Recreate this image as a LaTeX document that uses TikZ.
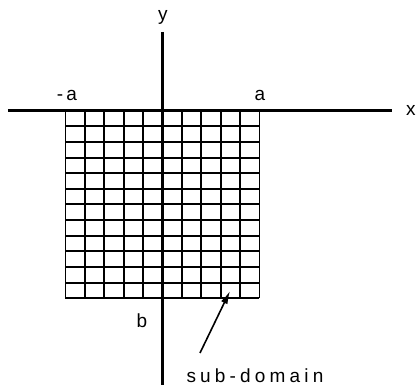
\documentclass[tikz,border=0pt]{standalone}
\usepackage{fontspec}
\setmainfont{Liberation Sans}[LetterSpace=22]
\usetikzlibrary{arrows.meta}

\begin{document}
\begin{tikzpicture}[x=1pt,y=1pt,font=\fontsize{19}{21}\selectfont]
  \useasboundingbox (-162.5,-279.3) rectangle (253.5,110.7);
  % sub-domain grid, 10 x 12 cells
  \foreach \i in {0,...,10}
    \draw[line width=1.9pt] (-97+19.4*\i,0)--(-97+19.4*\i,-187.5);
  \foreach \j in {0,...,12}
    \draw[line width=1.9pt] (-97,-15.625*\j)--(97,-15.625*\j);
  % axes
  \draw[line width=2.4pt] (-154.5,0)--(229.5,0);
  \draw[line width=2.4pt] (0,78.7)--(0,-274.3);
  \node (xlab) at (248.5,0) {x}; \node (ylab) at (0.5,93.7) {y};
  \node (mina) at (-95.5,15.5) {-\,a}; \node (pla) at (97.5,15.5) {a};
  \node (blab) at (-20.5,-210.3) {b};
  \node (sub) at (92.5,-265.3) {sub-domain};
  \coordinate (tail) at (37.5,-242.3); \coordinate (tip) at (67.5,-180.3);
  \draw[line width=1.6pt,-{Latex[length=13pt,width=7pt]}] (tail)--(tip);
\end{tikzpicture}
\end{document}
